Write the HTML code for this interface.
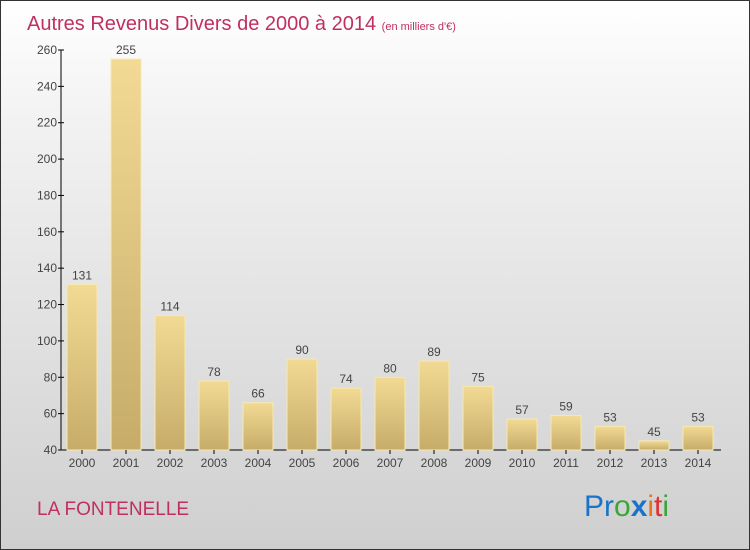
<!DOCTYPE html>
<html><head><meta charset="utf-8"><style>
body{margin:0}
#c{width:748px;height:548px;border:1px solid #333;background:linear-gradient(#fff,#f3f3f3 20%,#cfcfcf);position:relative;overflow:hidden;font-family:"Liberation Sans",sans-serif}
</style></head><body>
<div id="c">
<svg width="748" height="548" style="position:absolute;left:0;top:0">
<defs><linearGradient id="g" x1="0" y1="0" x2="0" y2="1"><stop offset="0" stop-color="#f2da94"/><stop offset="1" stop-color="#c6ac68"/></linearGradient></defs>
<text x="26" y="29" font-size="20" fill="#c0305f">Autres Revenus Divers de 2000 à 2014 <tspan font-size="11">(en milliers d'€)</tspan></text>
<g id="plot"></g>
<text x="36" y="514" font-size="19" fill="#c0305f">LA FONTENELLE</text>
<text x="583" y="515" font-size="30"><tspan fill="#1a73c9">Pr</tspan><tspan fill="#3aa53a">o</tspan><tspan fill="#1a73c9" font-weight="bold">x</tspan><tspan fill="#e8731a">i</tspan><tspan fill="#e03030">t</tspan><tspan fill="#3aa53a">i</tspan></text>
</svg>
</div>
<script>
const years=["2000","2001","2002","2003","2004","2005","2006","2007","2008","2009","2010","2011","2012","2013","2014"];
const values=[131,255,114,78,66,90,74,80,89,75,57,59,53,45,53];
const ticks=[40,60,80,100,120,140,160,180,200,220,240,260];
const ns="http://www.w3.org/2000/svg",p=document.getElementById('plot');
const y=v=>449-(v-40)*400/220, x=i=>66+i*44;
function mk(t,a,txt){const e=document.createElementNS(ns,t);for(const k in a)e.setAttribute(k,a[k]);if(txt!==undefined)e.textContent=txt;p.appendChild(e);return e;}
let ax=mk('line',{x1:60,y1:49,x2:60,y2:449,stroke:'#000'});


let bx=mk('line',{x1:60,y1:449,x2:720,y2:449,stroke:'#000'});


ticks.forEach(t=>{
 const l=mk('line',{x1:57,x2:63,y1:y(t),y2:y(t),stroke:'#000'});
 
 
 const s=mk('text',{x:56,y:y(t)+4,'font-size':12,'text-anchor':'end',fill:'#444'},t);
 
 
});
years.forEach((yr,i)=>{
 const r=mk('rect',{x:x(i),y:y(values[i]),width:30,height:449-y(values[i]),fill:'url(#g)',stroke:'#f8e8b0','stroke-width':1});
 
 
 const v=mk('text',{x:x(i)+15,y:y(values[i])-5,'font-size':12,'text-anchor':'middle',fill:'#444'},values[i]);
 
 
 const t=mk('line',{x1:x(i)+15,x2:x(i)+15,y1:449,y2:453,stroke:'#000'});
 
 
 const l=mk('text',{x:x(i)+15,y:466,'font-size':12,'text-anchor':'middle',fill:'#444'},yr);
 
 
});
</script>
</body></html>
